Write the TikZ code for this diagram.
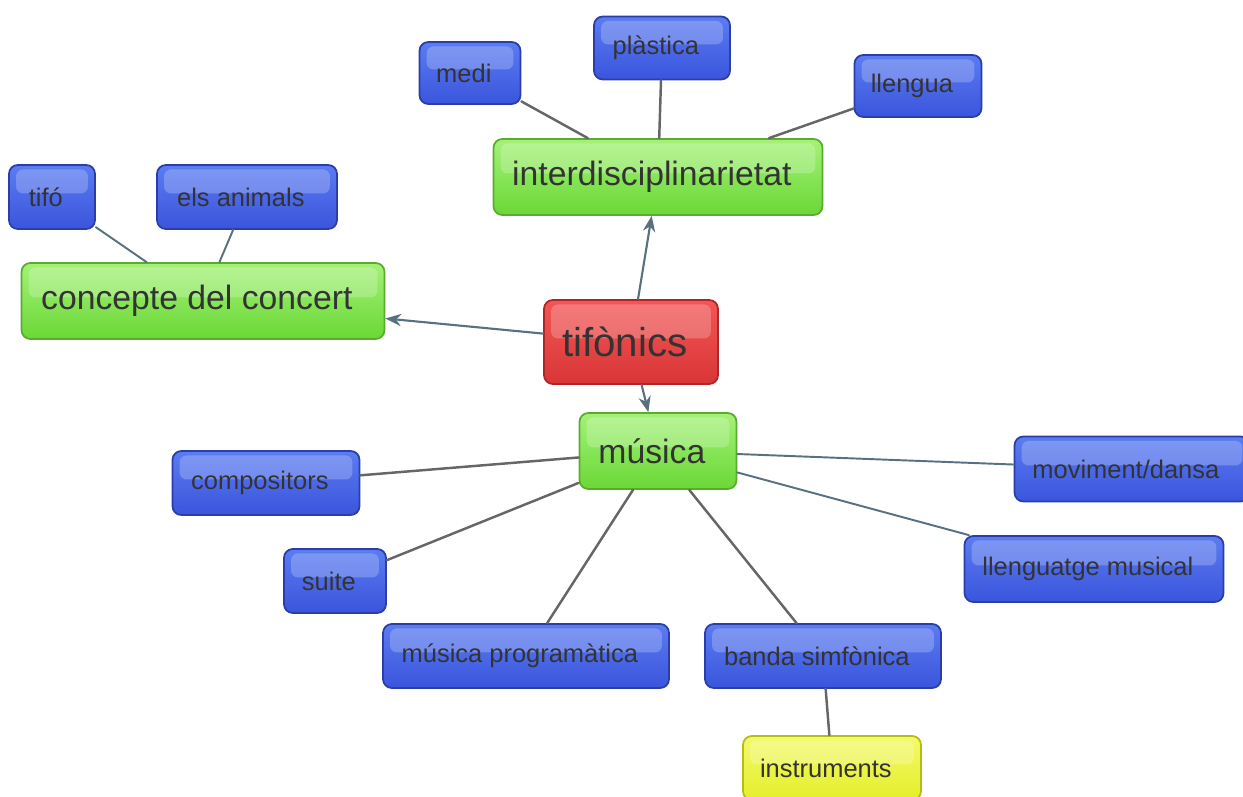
\documentclass[tikz,border=0pt]{standalone}
\usepackage{fontspec}
\setmainfont{Liberation Sans}
\usetikzlibrary{arrows.meta}
\definecolor{txt}{HTML}{333333}
\definecolor{linkgray}{HTML}{666666}
\definecolor{linkblue}{HTML}{587080}
\definecolor{bluetop}{HTML}{5B7CF2}
\definecolor{bluebot}{HTML}{3A55DC}
\definecolor{blueline}{HTML}{2A3EA8}
\definecolor{greentop}{HTML}{A4F278}
\definecolor{greenbot}{HTML}{6AD836}
\definecolor{greenline}{HTML}{5AAB2E}
\definecolor{redtop}{HTML}{F25656}
\definecolor{redbot}{HTML}{D93636}
\definecolor{redline}{HTML}{B02626}
\definecolor{yellowtop}{HTML}{F4FA6A}
\definecolor{yellowbot}{HTML}{E4EE2A}
\definecolor{yellowline}{HTML}{B4BC18}
\tikzset{
  box/.style={rounded corners=5pt, line width=1pt, text=txt, inner sep=0pt,
    execute at end node={\hspace*{7pt}},
    path picture={\fill[white,opacity=.22,rounded corners=4pt]
      ([xshift=4pt,yshift=-2.5pt]path picture bounding box.north west) rectangle
      ([xshift=-4pt,yshift=2pt]path picture bounding box.east);}},
  bluebox/.style={box, draw=blueline, top color=bluetop, bottom color=bluebot,
    font=\fontsize{14.5}{17}\selectfont, minimum height=1.28cm},
  greenbox/.style={box, draw=greenline, top color=greentop, bottom color=greenbot,
    font=\fontsize{19.2}{22}\selectfont, minimum height=1.52cm},
  redbox/.style={box, draw=redline, top color=redtop, bottom color=redbot,
    font=\fontsize{22.9}{26}\selectfont},
  yellowbox/.style={box, draw=yellowline, top color=yellowtop, bottom color=yellowbot,
    font=\fontsize{14.5}{17}\selectfont, minimum height=1.28cm},
  link/.style={draw=linkgray, line width=1.4pt},
  linkb/.style={draw=linkblue, line width=1.1pt},
  arr/.style={draw=linkblue, line width=1.2pt, -{Stealth[length=9pt,width=7pt]}}
}
\begin{document}
\begin{tikzpicture}[x=0.02cm, y=-0.02cm, line join=round, line cap=round]
\useasboundingbox (0,0) rectangle (1243,797);
% centre
\node[redbox, minimum width=3.48cm, minimum height=1.68cm] (tif) at (631,342) {tifònics};
% second level
\node[greenbox, minimum width=6.58cm] (inter) at (658,177) {interdisciplinarietat};
\node[greenbox, minimum width=7.26cm] (conc) at (203,301) {concepte del concert};
\node[greenbox, minimum width=3.14cm] (mus) at (658,451) {música};
% leaves
\node[bluebox, minimum width=2.02cm, minimum height=1.24cm] (medi) at (470,73) {medi};
\node[bluebox, minimum width=2.72cm, minimum height=1.26cm] (plas) at (662,48) {plàstica};
\node[bluebox, minimum width=2.54cm, minimum height=1.24cm] (lleng) at (918,86) {llengua};
\node[bluebox, minimum width=1.72cm] (tifo) at (52,197) {tifó};
\node[bluebox, minimum width=3.6cm] (anim) at (247,197) {els animals};
\node[bluebox, minimum width=3.74cm] (comp) at (266,483) {compositors};
\node[bluebox, minimum width=2.04cm] (suite) at (335,581) {suite};
\node[bluebox, minimum width=5.72cm] (prog) at (526,656) {música programàtica};
\node[bluebox, minimum width=4.72cm] (banda) at (823,656) {banda simfònica};
\node[bluebox, minimum width=4.7cm, minimum height=1.3cm] (mov) at (1132,469) {moviment/dansa};
\node[bluebox, minimum width=5.18cm, minimum height=1.32cm] (llmus) at (1094,569) {llenguatge musical};
\node[yellowbox, minimum width=3.56cm] (instr) at (832,768) {instruments};
% arrows out of the centre
\draw[arr] (tif) -- (inter);
\draw[arr] (tif) -- (conc);
\draw[arr] (tif) -- (mus);
% plain links
\draw[link] (inter) -- (medi);
\draw[link] (inter) -- (plas);
\draw[link] (inter) -- (lleng);
\draw[linkb] (conc) -- (tifo);
\draw[linkb] (conc) -- (anim);
\draw[link] (mus) -- (comp);
\draw[link] (mus) -- (suite);
\draw[link] (mus) -- (prog);
\draw[link] (mus) -- (banda);
\draw[linkb] (mus) -- (mov);
\draw[linkb] (mus) -- (llmus);
\draw[link] (banda) -- (instr);
\end{tikzpicture}
\end{document}
